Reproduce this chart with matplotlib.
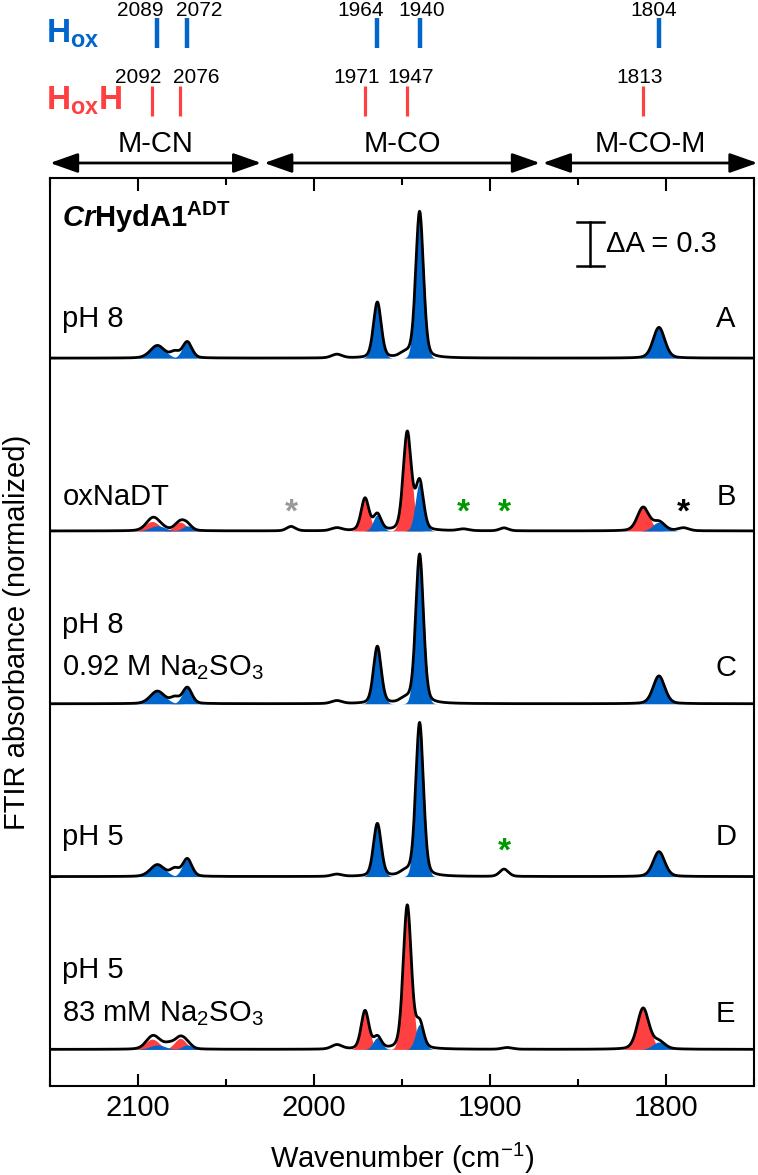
import numpy as np
import matplotlib
matplotlib.use("Agg")
import matplotlib.pyplot as plt
from matplotlib.patches import FancyArrowPatch
from matplotlib.ticker import MultipleLocator

plt.rcParams["font.family"] = ["Liberation Sans", "DejaVu Sans"]
plt.rcParams["mathtext.fontset"] = "custom"
plt.rcParams["mathtext.rm"] = "Liberation Sans"
plt.rcParams["mathtext.it"] = "Liberation Sans:italic"
plt.rcParams["mathtext.bf"] = "Liberation Sans:bold"
plt.rcParams["mathtext.bfit"] = "Liberation Sans:bold:italic"
plt.rcParams["mathtext.default"] = "regular"

BLUE = "#0066CC"
RED = "#FF4040"

# band positions (cm-1) of the two states
hox_pos = [2089, 2072, 1964, 1940, 1804]
hoxh_pos = [2092, 2076, 1971, 1947, 1813]
hox_sig = [4.0, 2.6, 2.2, 2.2, 3.3]
hoxh_sig = [3.6, 3.0, 2.2, 2.3, 3.3]
# where the number labels of the top stick diagram sit
hox_lbl_x = [2099, 2065, 1973.5, 1939, 1807]
hoxh_lbl_x = [2100, 2067, 1976, 1945, 1815]

# panels, top to bottom
panel_letters = ["A", "B", "C", "D", "E"]
panel_labels = [["pH 8"], ["oxNaDT"], ["pH 8", "0.92 M Na$_2$SO$_3$"],
                ["pH 5"], ["pH 5", "83 mM Na$_2$SO$_3$"]]
offsets = [4.72, 3.54, 2.36, 1.18, 0.0]

# normalized band amplitudes per panel
hox_amp = [
    [0.085, 0.11, 0.38, 1.00, 0.21],
    [0.035, 0.035, 0.11, 0.33, 0.06],
    [0.085, 0.11, 0.39, 1.02, 0.19],
    [0.080, 0.12, 0.36, 1.05, 0.17],
    [0.030, 0.03, 0.08, 0.17, 0.05],
]
hoxh_amp = [
    [0, 0, 0, 0, 0],
    [0.065, 0.06, 0.22, 0.67, 0.16],
    [0, 0, 0, 0, 0],
    [0, 0, 0, 0, 0],
    [0.070, 0.075, 0.26, 0.98, 0.28],
]
# small unassigned bands (position, amplitude, width)
extra_bands = [
    [(2079, 0.04, 2.5), (1987, 0.025, 3.0), (1948, 0.03, 3.0)],
    [(2013, 0.03, 2.5), (1987, 0.02, 3.0), (1915, 0.012, 3.0), (1892, 0.02, 2.5), (1790, 0.02, 3.0)],
    [(2079, 0.04, 2.5), (1987, 0.02, 3.0), (1948, 0.03, 3.0)],
    [(2079, 0.05, 2.5), (1987, 0.015, 3.0), (1948, 0.03, 3.0), (1892, 0.05, 2.5)],
    [(2082, 0.03, 3.0), (1987, 0.03, 3.0), (1890, 0.012, 3.0)],
]
# asterisk marks (panel index, position, colour)
stars = [(1, 2013, "#999999"), (1, 1915, "#009900"), (1, 1892, "#009900"),
         (1, 1790, "black"), (3, 1892, "#009900")]


def band(x, c, a, s, eta=0.25):
    # pseudo-Voigt: Gaussian with a little Lorentzian, same FWHM
    hw = s * np.sqrt(2 * np.log(2))
    gau = np.exp(-0.5 * ((x - c) / s) ** 2)
    lor = 1.0 / (1.0 + ((x - c) / hw) ** 2)
    return a * ((1 - eta) * gau + eta * lor)


x = np.linspace(1750, 2150, 2001)

fig = plt.figure(figsize=(7.58, 11.75), dpi=100)
ax = fig.add_axes([50 / 758, 89 / 1175, 704 / 758, 908 / 1175])
ax.set_xlim(2150, 1750)
ax.set_ylim(-0.25, 5.95)

for i, off in enumerate(offsets):
    total = np.zeros_like(x)
    for c, a, s in zip(hoxh_pos, hoxh_amp[i], hoxh_sig):
        g = band(x, c, a, s)
        total += g
        if a > 0:
            ax.fill_between(x, off, off + band(x, c, a, s * 1.1, eta=0), color=RED,
                            lw=0, zorder=2)
    for c, a, s in zip(hox_pos, hox_amp[i], hox_sig):
        g = band(x, c, a, s)
        total += g
        if a > 0:
            ax.fill_between(x, off, off + band(x, c, a, s * 1.1, eta=0), color=BLUE,
                            lw=0, zorder=3)
    for c, a, s in extra_bands[i]:
        total += band(x, c, a, s)
    ax.plot(x, off + total, color="black", lw=2, zorder=4)

    lines = panel_labels[i]
    if len(lines) == 1:
        yl = 0.23 if i == 1 else 0.27
        ax.text(2143, off + yl, lines[0], fontsize=21, va="center", ha="left")
        ax.text(1766, off + yl, panel_letters[i], fontsize=21, va="center", ha="center")
    else:
        ax.text(2143, off + 0.54, lines[0], fontsize=21, va="center", ha="left")
        ax.text(2143, off + 0.245, lines[1], fontsize=21, va="center", ha="left")
        ax.text(1766, off + 0.245, panel_letters[i], fontsize=21, va="center", ha="center")

for i, pos, col in stars:
    yy = 0.17 if i == 3 else 0.12
    ax.text(pos, offsets[i] + yy, "*", color=col, fontsize=24, fontweight="bold",
            ha="center", va="center")

ax.text(2143, offsets[0] + 0.96, r"$\mathbfit{Cr}\mathbf{HydA1}^{\mathbf{ADT}}$",
        fontsize=21, va="center", ha="left")

# Delta A scale bar
a0 = offsets[0]
ax.plot([1843, 1843], [a0 + 0.627, a0 + 0.927], color="black", lw=1.8)
ax.plot([1850.5, 1835.5], [a0 + 0.627, a0 + 0.627], color="black", lw=1.8)
ax.plot([1850.5, 1835.5], [a0 + 0.927, a0 + 0.927], color="black", lw=1.8)
ax.text(1834, a0 + 0.777, "ΔA = 0.3", fontsize=21, va="center", ha="left")

ax.xaxis.set_major_locator(MultipleLocator(100))
ax.xaxis.set_minor_locator(MultipleLocator(50))
ax.tick_params(axis="x", which="major", direction="in", length=9, width=1.5,
               top=True, labelsize=21, pad=6)
ax.tick_params(axis="x", which="minor", direction="in", length=5, width=1.5, top=True)
ax.set_yticks(offsets)
ax.tick_params(axis="y", direction="in", length=5, width=1.5, labelleft=False)
for sp in ax.spines.values():
    sp.set_linewidth(1.5)

fig.text(17 / 758, 1 - 632 / 1175, "FTIR absorbance (normalized)", rotation=90,
         fontsize=21, ha="center", va="center")
fig.text(402 / 758, 1 - 1158 / 1175, "Wavenumber (cm$^{-1}$)", fontsize=21,
         ha="center", va="center")

# top annotation strip, y in pixels from the top of the figure
tax = fig.add_axes([50 / 758, 1 - 178 / 1175, 704 / 758, 178 / 1175])
tax.set_xlim(2150, 1750)
tax.set_ylim(178, 0)
tax.axis("off")

tax.vlines(hox_pos, 18, 48, color=BLUE, lw=3.2)
tax.vlines(hoxh_pos, 86, 116, color=RED, lw=2.3)
for p, lx in zip(hox_pos, hox_lbl_x):
    tax.text(lx, 16, str(p), fontsize=15, ha="center", va="baseline")
for p, lx in zip(hoxh_pos, hoxh_lbl_x):
    tax.text(lx, 83, str(p), fontsize=15, ha="center", va="baseline")
tax.text(2152, 43, r"$\mathbf{H}_{\mathbf{ox}}$", color=BLUE, fontsize=24,
         ha="left", va="baseline")
tax.text(2152, 110, r"$\mathbf{H}_{\mathbf{ox}}\mathbf{H}$", color=RED, fontsize=24,
         ha="left", va="baseline")

regions = [("M-CN", 2150, 2030, 2090), ("M-CO", 2028.3, 1871.6, 1950),
           ("M-CO-M", 1870, 1748, 1809)]
for name, x0, x1, xc in regions:
    arr = FancyArrowPatch((x0, 163), (x1, 163),
                          arrowstyle="<|-|>,head_length=17,head_width=6",
                          mutation_scale=1, lw=2, color="black",
                          shrinkA=0, shrinkB=0, clip_on=False)
    tax.add_patch(arr)
    tax.text(xc, 152, name, fontsize=21, ha="center", va="baseline")

fig.savefig("out.png", dpi=100)
